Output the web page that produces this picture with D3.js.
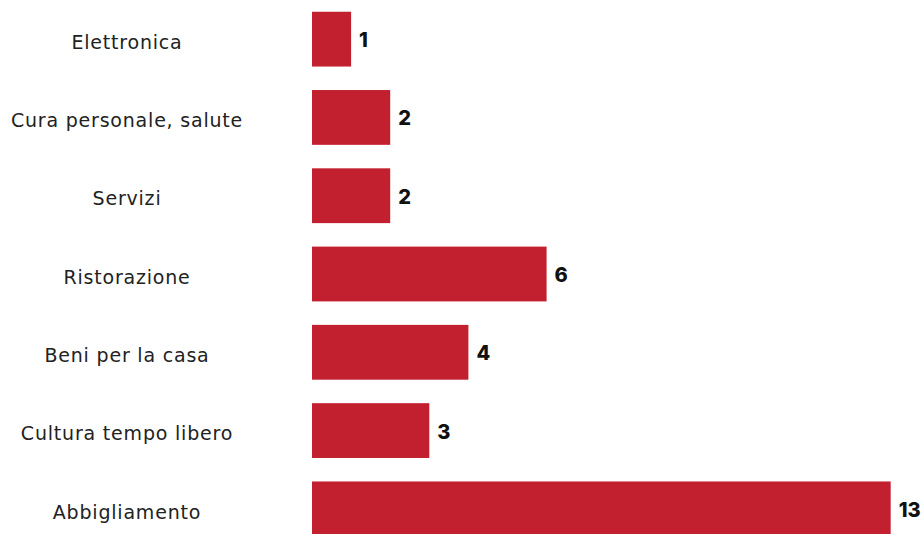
<!DOCTYPE html>
<html lang="it">
<head>
    <meta charset="UTF-8">
    <title>Categorie</title>
    <script src="https://d3js.org/d3.v7.min.js"></script>
    <style>
        body { margin: 0; background: #fff; }
        svg { display: block; }
        .cat { font-family: "DejaVu Sans", sans-serif; font-size: 19px; letter-spacing: 0.8px; fill: #222; }
        .val { font-family: "Inter", "Noto Sans", sans-serif; font-size: 20px; font-weight: 800; fill: #111; }
    </style>
</head>
<body>
    <svg width="924" height="534"></svg>
    <script>
        // data
        var categories = ["Elettronica", "Cura personale, salute", "Servizi", "Ristorazione",
                          "Beni per la casa", "Cultura tempo libero", "Abbigliamento"];
        // bar lengths as drawn (last bar is drawn longer than its label)
        var values = [1, 2, 2, 6, 4, 3, 14.8];
        var valueLabels = ["1", "2", "2", "6", "4", "3", "13"];

        var svg = d3.select("svg");

        var x = d3.scaleLinear()
            .domain([0, 15])
            .range([312, 312 + 15 * 39.1]);

        var y = d3.scaleBand()
            .domain(categories)
            .range([0, 548])
            .paddingInner(0.3)
            .paddingOuter(0.15);

        // bars
        svg.selectAll("rect")
            .data(values)
            .enter().append("rect")
            .attr("x", x(0))
            .attr("y", function(d, i) { return y(categories[i]); })
            .attr("width", function(d) { return x(d) - x(0); })
            .attr("height", y.bandwidth())
            .attr("fill", "#c3202f");

        // category labels
        svg.selectAll(".cat")
            .data(categories)
            .enter().append("text")
            .attr("class", "cat")
            .attr("x", 127)
            .attr("y", function(d) { return y(d) + y.bandwidth() / 2 + 3; })
            .attr("dy", "0.35em")
            .attr("text-anchor", "middle")
            .text(function(d) { return d; });

        // value labels
        svg.selectAll(".val")
            .data(values)
            .enter().append("text")
            .attr("class", "val")
            .attr("x", function(d) { return x(d) + 8; })
            .attr("y", function(d, i) { return y(categories[i]) + y.bandwidth() / 2 + 1; })
            .attr("dy", "0.35em")
            .text(function(d, i) { return valueLabels[i]; });
    </script>
</body>
</html>
